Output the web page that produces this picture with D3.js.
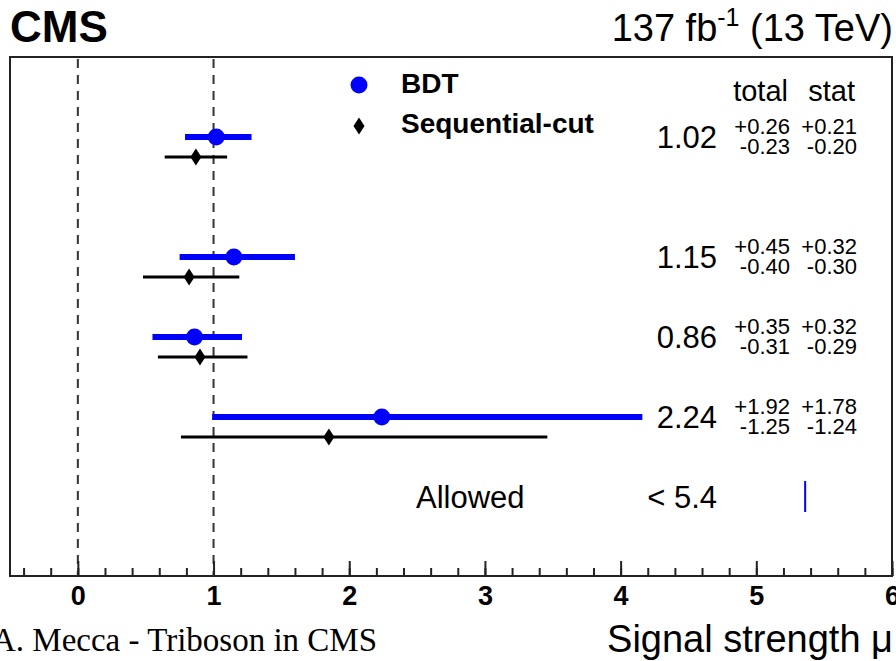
<!DOCTYPE html>
<html>
<head>
<meta charset="utf-8">
<script src="https://cdn.jsdelivr.net/npm/d3@7"></script>
<style>
  body { margin: 0; background: #fff; }
  text { font-family: "Liberation Sans", Arial, sans-serif; fill: #000; }
</style>
</head>
<body>
<svg id="chart"></svg>
<script>
// row positions (in row units, top to bottom)
const rowPos = [0, 1.5, 2.5, 3.5];

// BDT results with total and stat uncertainties
const bdtMu = [1.02, 1.15, 0.86, 2.24];
const totalUp = [0.26, 0.45, 0.35, 1.92];
const totalDown = [0.23, 0.40, 0.31, 1.25];
const statUp = [0.21, 0.32, 0.32, 1.78];
const statDown = [0.20, 0.30, 0.29, 1.24];

// sequential-cut results
const seqMu = [0.87, 0.82, 0.90, 1.85];
const seqLow = [0.64, 0.48, 0.59, 0.76];
const seqHigh = [1.10, 1.19, 1.25, 3.46];

// last row: upper limit only
const allowedPos = 4.5;
const allowedLimit = 5.36;
const allowedLabel = "< 5.4";

const refLines = [0, 1];
const xTicks = [0, 1, 2, 3, 4, 5, 6];

const width = 896;
const height = 661;
const blue = "#0000ff";

const svg = d3
  .select("#chart")
  .attr("width", width)
  .attr("height", height);

const x = d3.scaleLinear().domain([-0.5, 6]).range([10, 892]);
const y = d3.scaleLinear().domain([0, 4.5]).range([137, 497]);
const plotTop = 57;
const plotBottom = 576;
const seqOffset = 20;

// frame
svg
  .append("rect")
  .attr("x", x.range()[0])
  .attr("y", plotTop)
  .attr("width", x.range()[1] - x.range()[0])
  .attr("height", plotBottom - plotTop)
  .attr("fill", "none")
  .attr("stroke", "#222")
  .attr("stroke-width", 2);

// dashed reference lines
svg
  .selectAll(".ref")
  .data(refLines)
  .enter()
  .append("line")
  .attr("class", "ref")
  .attr("x1", (d) => x(d))
  .attr("x2", (d) => x(d))
  .attr("y1", plotTop + 2)
  .attr("y2", plotBottom)
  .attr("stroke", "#333")
  .attr("stroke-width", 2)
  .attr("stroke-dasharray", "9,7");

// x axis with ROOT-like inward ticks
const axis = svg.append("g").attr("transform", `translate(0,${plotBottom})`);
axis
  .call(
    d3.axisBottom(x)
      .tickValues(d3.range(-0.4, 6.01, 0.2))
      .tickSize(-8)
      .tickFormat("")
  )
  .call((g) => g.select(".domain").remove())
  .call((g) => g.selectAll("line").attr("stroke", "#222").attr("stroke-width", 2));

const major = svg.append("g").attr("transform", `translate(0,${plotBottom})`);
major
  .call(
    d3.axisBottom(x)
      .tickValues(xTicks)
      .tickSize(-15)
      .tickPadding(0)
      .tickFormat(d3.format("d"))
  )
  .call((g) => g.select(".domain").remove())
  .call((g) => g.selectAll("line").attr("stroke", "#222").attr("stroke-width", 2))
  .call((g) =>
    g
      .selectAll("text")
      .attr("y", 29)
      .attr("dy", null)
      .style("font-size", "27px")
      .style("font-weight", "bold")
      .style("font-family", '"Liberation Sans", Arial, sans-serif')
      .attr("fill", "#000")
  );

// rows
const rows = rowPos.map((p, i) => ({ p, i }));

// sequential-cut bars
svg
  .selectAll(".seq-bar")
  .data(rows)
  .enter()
  .append("line")
  .attr("class", "seq-bar")
  .attr("x1", (d) => x(seqLow[d.i]))
  .attr("x2", (d) => x(seqHigh[d.i]))
  .attr("y1", (d) => y(d.p) + seqOffset)
  .attr("y2", (d) => y(d.p) + seqOffset)
  .attr("stroke", "#000")
  .attr("stroke-width", 3);

const diamond = "M0,-8.5L5.5,0L0,8.5L-5.5,0Z";
svg
  .selectAll(".seq-pt")
  .data(rows)
  .enter()
  .append("path")
  .attr("class", "seq-pt")
  .attr("d", diamond)
  .attr("transform", (d) => `translate(${x(seqMu[d.i])},${y(d.p) + seqOffset})`)
  .attr("fill", "#000");

// BDT bars
svg
  .selectAll(".bdt-bar")
  .data(rows)
  .enter()
  .append("line")
  .attr("class", "bdt-bar")
  .attr("x1", (d) => x(bdtMu[d.i] - totalDown[d.i]))
  .attr("x2", (d) => x(bdtMu[d.i] + totalUp[d.i]))
  .attr("y1", (d) => y(d.p))
  .attr("y2", (d) => y(d.p))
  .attr("stroke", blue)
  .attr("stroke-width", 6);

svg
  .selectAll(".bdt-pt")
  .data(rows)
  .enter()
  .append("circle")
  .attr("class", "bdt-pt")
  .attr("cx", (d) => x(bdtMu[d.i]))
  .attr("cy", (d) => y(d.p))
  .attr("r", 8.5)
  .attr("fill", blue);

// numbers on the right
const fmt = d3.format(".2f");
svg
  .selectAll(".val")
  .data(rows)
  .enter()
  .append("text")
  .attr("class", "val")
  .attr("x", 717)
  .attr("y", (d) => y(d.p) + 11)
  .attr("text-anchor", "end")
  .style("font-size", "31px")
  .text((d) => fmt(bdtMu[d.i]));

const errCols = [
  { up: totalUp, down: totalDown, x: 790 },
  { up: statUp, down: statDown, x: 857 },
];
errCols.forEach((c) => {
  svg
    .selectAll(null)
    .data(rows)
    .enter()
    .append("text")
    .attr("x", c.x)
    .attr("y", (d) => y(d.p) - 3)
    .attr("text-anchor", "end")
    .style("font-size", "22px")
    .text((d) => "+" + fmt(c.up[d.i]));
  svg
    .selectAll(null)
    .data(rows)
    .enter()
    .append("text")
    .attr("x", c.x)
    .attr("y", (d) => y(d.p) + 17)
    .attr("text-anchor", "end")
    .style("font-size", "22px")
    .text((d) => "-" + fmt(c.down[d.i]));
});

svg
  .append("text")
  .attr("x", 788)
  .attr("y", 101)
  .attr("text-anchor", "end")
  .style("font-size", "29px")
  .text("total");
svg
  .append("text")
  .attr("x", 855)
  .attr("y", 101)
  .attr("text-anchor", "end")
  .style("font-size", "29px")
  .text("stat");

// allowed row
svg
  .append("text")
  .attr("x", 416)
  .attr("y", y(allowedPos) + 11)
  .style("font-size", "31px")
  .text("Allowed");
svg
  .append("text")
  .attr("x", 717)
  .attr("y", y(allowedPos) + 11)
  .attr("text-anchor", "end")
  .style("font-size", "31px")
  .text(allowedLabel);
svg
  .append("line")
  .attr("x1", x(allowedLimit))
  .attr("x2", x(allowedLimit))
  .attr("y1", y(allowedPos) - 16)
  .attr("y2", y(allowedPos) + 15)
  .attr("stroke", blue)
  .attr("stroke-width", 2);

// legend
const legend = svg.append("g").attr("transform", "translate(359,85)");
legend.append("circle").attr("r", 8.5).attr("fill", blue);
legend
  .append("text")
  .attr("x", 42)
  .attr("y", 8)
  .style("font-size", "28px")
  .style("font-weight", "bold")
  .text("BDT");
legend
  .append("path")
  .attr("d", diamond)
  .attr("transform", "translate(0,41)")
  .attr("fill", "#000");
legend
  .append("text")
  .attr("x", 42)
  .attr("y", 48)
  .style("font-size", "28px")
  .style("font-weight", "bold")
  .text("Sequential-cut");

// header texts
svg
  .append("text")
  .attr("x", 10)
  .attr("y", 42)
  .style("font-size", "44px")
  .style("font-weight", "bold")
  .text("CMS");

const lumi = svg
  .append("text")
  .attr("x", 893)
  .attr("y", 41)
  .attr("text-anchor", "end")
  .style("font-size", "38px");
lumi.append("tspan").text("137 fb");
lumi.append("tspan").attr("dy", -15).style("font-size", "25px").text("-1");
lumi.append("tspan").attr("dy", 15).text(" (13 TeV)");

// axis title
svg
  .append("text")
  .attr("x", 893)
  .attr("y", 652)
  .attr("text-anchor", "end")
  .style("font-size", "38px")
  .text("Signal strength μ");

// footer
svg
  .append("text")
  .attr("x", -8)
  .attr("y", 651)
  .style("font-family", '"Liberation Serif", "DejaVu Serif", serif')
  .style("font-size", "33px")
  .text("A. Mecca - Triboson in CMS");
</script>
</body>
</html>
